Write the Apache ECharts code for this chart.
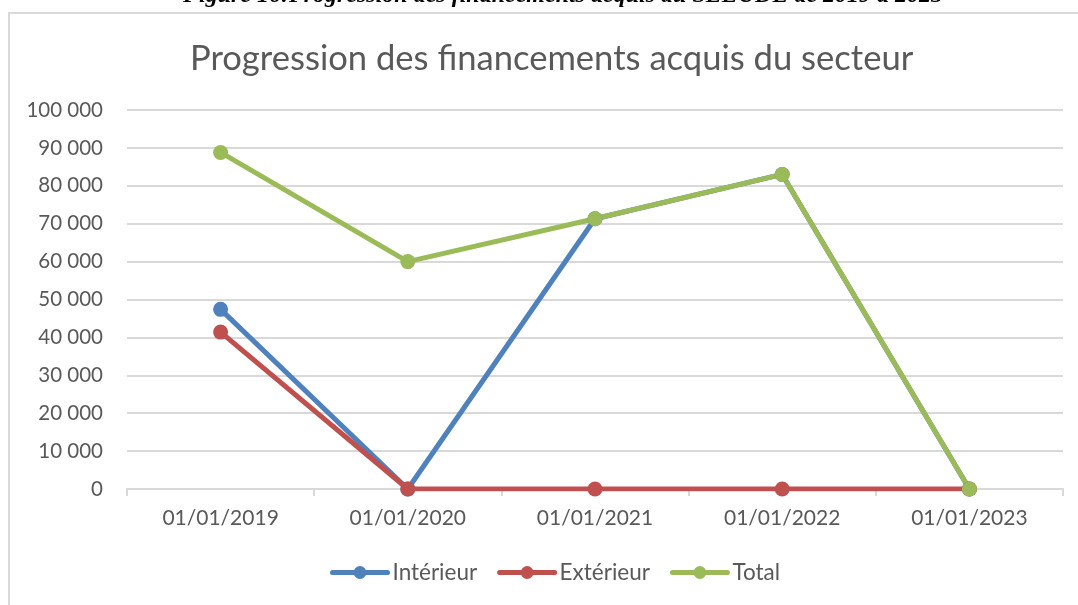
<!DOCTYPE html>
<html>
<head>
<meta charset="utf-8">
<script src="https://cdn.jsdelivr.net/npm/echarts@6/dist/echarts.min.js"></script>
<style>
    html, body { margin: 0; padding: 0; background: #fff; }
    #chart { width: 1078px; height: 605px; }
</style>
</head>
<body>
<div id="chart"></div>
<script>
const categories = ['01/01/2019', '01/01/2020', '01/01/2021', '01/01/2022', '01/01/2023'];
const interieur = [47400, 0, 71300, 83000, 0];
const exterieur = [41400, 0, 0, 0, 0];
const total = [88800, 60000, 71300, 83000, 0];

const chart = echarts.init(document.getElementById('chart'));
const font = 'Lato, "Noto Sans", sans-serif';

function mkSeries(name, data, color) {
    return {
        name: name,
        type: 'line',
        data: data,
        symbol: 'circle',
        symbolSize: 15,
        itemStyle: { color: color },
        lineStyle: { width: 5, color: color, cap: 'round', join: 'round' },
        emphasis: { disabled: true },
        animation: false
    };
}

const option = {
    backgroundColor: '#fff',
    title: {
        text: 'Progression des financements acquis du secteur',
        left: 185,
        top: 36,
        textStyle: { fontFamily: font, fontSize: 34.6, fontWeight: 'normal', color: '#595959' }
    },
    graphic: [
        {
            type: 'rect',
            shape: { x: 9, y: 13, width: 1100, height: 620 },
            style: { fill: 'none', stroke: '#d9d9d9', lineWidth: 2 },
            silent: true
        },
        {
            type: 'text',
            left: 183,
            top: -16,
            style: {
                text: 'Figure 16:Progression des financements acquis du SEEUDE de 2019 à 2023',
                font: 'italic bold 24px "Liberation Serif", serif',
                fill: '#000'
            },
            silent: true
        }
    ],
    legend: {
        bottom: 16,
        left: 325,
        itemWidth: 55,
        itemHeight: 16,
        itemGap: 20,
        lineStyle: { width: 5 },
        textStyle: { fontFamily: font, fontSize: 22.5, color: '#595959' },
        data: ['Intérieur', 'Extérieur', 'Total']
    },
    grid: { left: 127, right: 15, top: 110, bottom: 116 },
    xAxis: {
        type: 'category',
        data: categories,
        boundaryGap: true,
        axisLine: { lineStyle: { color: '#d9d9d9', width: 2 } },
        axisTick: { show: true, length: 7, lineStyle: { color: '#d9d9d9', width: 2 } },
        axisLabel: { margin: 19, fontFamily: font, fontSize: 21, color: '#595959' }
    },
    yAxis: {
        type: 'value',
        min: 0,
        max: 100000,
        interval: 10000,
        axisLine: { show: false },
        axisTick: { show: false },
        splitLine: { lineStyle: { color: '#d9d9d9', width: 2 } },
        axisLabel: {
            margin: 24,
            fontFamily: font,
            fontSize: 20.5,
            color: '#595959',
            formatter: v => String(v).replace(/\B(?=(\d{3})+(?!\d))/g, ' ')
        }
    },
    series: [
        mkSeries('Intérieur', interieur, '#4f81bd'),
        mkSeries('Extérieur', exterieur, '#c0504d'),
        mkSeries('Total', total, '#9bbb59')
    ]
};

chart.setOption(option);
</script>
</body>
</html>
